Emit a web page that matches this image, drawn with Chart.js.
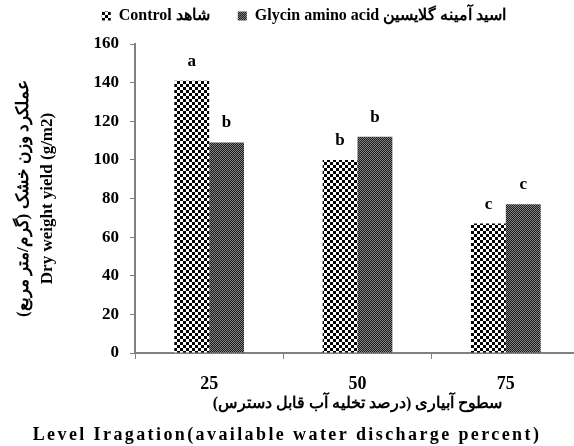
<!DOCTYPE html>
<html><head><meta charset="utf-8">
<script src="https://cdn.jsdelivr.net/npm/chart.js@4.4.0/dist/chart.umd.min.js"></script>
<style>html,body{margin:0;padding:0;background:#fff;overflow:hidden;width:574px;height:446px}#wrap{width:580px;height:446px;position:relative}</style>
</head><body><div id="wrap"><canvas id="c"></canvas></div>
<script>
const categories = ['25', '50', '75'];
const controlValues = [141, 100, 67];
const glycinValues = [109, 112, 77];
const controlLetters = ['a', 'b', 'c'];
const glycinLetters = ['b', 'b', 'c'];
const seriesNames = ['Control شاهد', 'Glycin amino acid اسید آمینه گلایسین'];
const yTitle = ['عملکرد وزن خشک (گرم/متر مربع)', 'Dry weight yield (g/m2)'];
const xTitle = ['سطوح آبیاری (درصد تخلیه آب قابل دسترس)', 'Level Iragation(available water discharge percent)'];
const yMin = 0, yMax = 160, yStep = 20;

const SERIF = "'Liberation Serif','Times New Roman',serif";

function makePattern(size, draw) {
  const c = document.createElement('canvas');
  c.width = size; c.height = size;
  const g = c.getContext('2d');
  draw(g);
  return g.createPattern(c, 'repeat');
}
const checkerPattern = makePattern(6, g => {
  g.fillStyle = '#fff'; g.fillRect(0, 0, 6, 6);
  g.fillStyle = '#000'; g.fillRect(0, 0, 3, 3); g.fillRect(3, 3, 3, 3);
});
const darkPattern = makePattern(2, g => {
  g.fillStyle = '#1a1a1a'; g.fillRect(0, 0, 2, 2);
  g.fillStyle = '#858585'; g.fillRect(0, 0, 1, 1); g.fillRect(1, 1, 1, 1);
});

const lettersPlugin = {
  id: 'letters',
  afterDatasetsDraw(chart) {
    const ctx = chart.ctx;
    const letters = [controlLetters, glycinLetters];
    ctx.save();
    ctx.font = 'bold 17px ' + SERIF;
    ctx.fillStyle = '#000';
    ctx.textAlign = 'center';
    ctx.textBaseline = 'alphabetic';
    chart.data.datasets.forEach((ds, di) => {
      chart.getDatasetMeta(di).data.forEach((bar, i) => {
        ctx.fillText(letters[di][i], bar.x, bar.y - 15);
      });
    });
    ctx.restore();
  }
};
const englishXTitlePlugin = {
  id: 'englishXTitle',
  afterDraw(chart) {
    const ctx = chart.ctx;
    ctx.save();
    ctx.font = 'bold 18px ' + SERIF;
    ctx.letterSpacing = '2.4px';
    ctx.fillStyle = '#000';
    ctx.textAlign = 'center';
    ctx.textBaseline = 'middle';
    ctx.fillText(xTitle[1], 287, chart.height - 11);
    ctx.restore();
  }
};
const legendHeightPlugin = {
  id: 'legendHeight',
  beforeLayout(chart) {
    const lg = chart.legend;
    if (lg && !lg._patched) {
      const f = lg.fit.bind(lg);
      lg.fit = function () { f(); this.height = 44; };
      lg._patched = true;
    }
  },
  afterLayout(chart) {
    const lg = chart.legend;
    if (lg) { lg.left += 14; lg.right += 14; }
  }
};

new Chart(document.getElementById('c'), {
  type: 'bar',
  data: {
    labels: categories,
    datasets: [
      { label: seriesNames[0], data: controlValues, backgroundColor: checkerPattern, borderWidth: 0 },
      { label: seriesNames[1], data: glycinValues, backgroundColor: darkPattern, borderWidth: 0 }
    ]
  },
  options: {
    responsive: true,
    maintainAspectRatio: false,
    animation: false,
    layout: { padding: 0 },
    datasets: { bar: { categoryPercentage: 0.47, barPercentage: 1 } },
    plugins: {
      tooltip: { enabled: false },
      legend: {
        position: 'top',
        labels: {
          color: '#000',
          font: { family: SERIF, weight: 'bold', size: 16 },
          boxWidth: 9, boxHeight: 9,
          padding: 8,
          generateLabels(chart) {
            const items = Chart.defaults.plugins.legend.labels.generateLabels(chart);
            items.forEach((it, i) => { if (i < items.length - 1) it.text = it.text + '\u00A0\u00A0\u00A0\u00A0\u00A0'; });
            return items;
          }
        }
      }
    },
    scales: {
      x: {
        grid: { display: true, drawOnChartArea: false, drawTicks: true, tickLength: 6, color: '#808080', offset: true },
        border: { display: true, color: '#808080', width: 2 },
        ticks: { color: '#000', font: { family: SERIF, weight: 'bold', size: 18 }, padding: 15 },
        title: {
          display: true, text: xTitle[0], color: '#000',
          font: { family: SERIF, weight: 'bold', size: 16, lineHeight: '20px' },
          padding: { top: 0, bottom: 32 }
        },
        afterFit(s) { s.height = 93; }
      },
      y: {
        min: yMin, max: yMax,
        grid: { display: true, drawOnChartArea: false, drawTicks: true, tickLength: 5, color: '#808080' },
        border: { display: true, color: '#808080', width: 2 },
        ticks: { stepSize: yStep, color: '#000', font: { family: SERIF, weight: 'bold', size: 17 }, padding: 11 },
        title: {
          display: true, text: yTitle, color: '#000',
          font: { family: SERIF, weight: 'bold', size: 17, lineHeight: '24px' },
          padding: { top: 12, bottom: 0 }
        },
        afterFit(s) { s.width = 135; }
      }
    }
  },
  plugins: [lettersPlugin, legendHeightPlugin, englishXTitlePlugin]
});
</script>
</body></html>
